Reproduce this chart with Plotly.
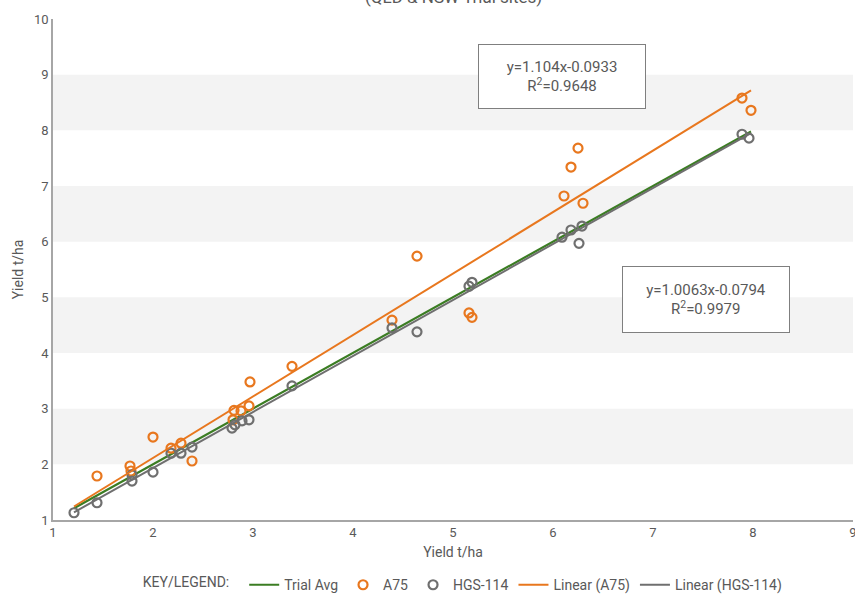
import plotly.graph_objects as go

# ---- data ----
hgs_x = [1.21, 1.44, 1.79, 1.79, 2.00, 2.18, 2.28, 2.39, 2.79, 2.82, 2.89, 2.96, 3.39,
         4.39, 4.64, 5.16, 5.19, 6.09, 6.18, 6.29, 6.26, 7.89, 7.96]
hgs_y = [1.13, 1.31, 1.81, 1.70, 1.86, 2.20, 2.20, 2.31, 2.65, 2.71, 2.78, 2.80, 3.41,
         4.45, 4.38, 5.20, 5.27, 6.08, 6.21, 6.28, 5.97, 7.93, 7.86]
a75_x = [1.44, 1.77, 1.78, 2.00, 2.18, 2.28, 2.39, 2.80, 2.81, 2.88, 2.96, 2.97, 3.39,
         4.39, 4.64, 5.16, 5.19, 6.11, 6.18, 6.25, 6.30, 7.89, 7.98]
a75_y = [1.79, 1.97, 1.88, 2.49, 2.29, 2.38, 2.06, 2.80, 2.97, 2.96, 3.05, 3.48, 3.76,
         4.59, 5.74, 4.72, 4.64, 6.82, 7.34, 7.68, 6.69, 8.58, 8.36]

trend_x = [1.21, 7.98]
a75_slope, a75_int = 1.104, -0.0933
hgs_slope, hgs_int = 1.0063, -0.0794
avg_slope, avg_int = 1.0, 0.0

eq_a75 = "y=1.104x-0.0933<br>R<sup>2</sup>=0.9648"
eq_hgs = "y=1.0063x-0.0794<br>R<sup>2</sup>=0.9979"
title_text = "(QLD & NSW Trial sites)"
x_title = "Yield t/ha"
y_title = "Yield t/ha"
band_ranges = [(2, 3), (4, 5), (6, 7), (8, 9)]

ORANGE = "#E8771E"
GREY = "#6F6F6F"
GREEN = "#3B7D23"
TXT = "#595959"
FONT = "Roboto, sans-serif"

fig = go.Figure()

fig.add_trace(go.Scatter(
    x=trend_x, y=[avg_slope * v + avg_int for v in trend_x], mode="lines",
    name="Trial Avg", line=dict(color=GREEN, width=2.2)))
fig.add_trace(go.Scatter(
    x=a75_x, y=a75_y, mode="markers", name="A75",
    marker=dict(symbol="circle-open", size=9, color=ORANGE, line=dict(width=2.2, color=ORANGE))))
fig.add_trace(go.Scatter(
    x=hgs_x, y=hgs_y, mode="markers", name="HGS-114",
    marker=dict(symbol="circle-open", size=9, color=GREY, line=dict(width=2.2, color=GREY))))
fig.add_trace(go.Scatter(
    x=trend_x, y=[a75_slope * v + a75_int for v in trend_x], mode="lines",
    name="Linear (A75)", line=dict(color=ORANGE, width=2)))
fig.add_trace(go.Scatter(
    x=trend_x, y=[hgs_slope * v + hgs_int for v in trend_x], mode="lines",
    name="Linear (HGS-114)", line=dict(color=GREY, width=2)))

for lo, hi in band_ranges:
    fig.add_shape(type="rect", xref="paper", x0=0, x1=1, yref="y", y0=lo, y1=hi,
                  fillcolor="#F3F3F3", line=dict(width=0), layer="below")

fig.add_annotation(x=6.09, y=8.97, xref="x", yref="y", text=eq_a75, showarrow=False,
                   font=dict(family=FONT, size=15, color=TXT),
                   bordercolor="#7F7F7F", borderwidth=1, bgcolor="white",
                   width=164, height=61, align="center")
fig.add_annotation(x=7.53, y=4.97, xref="x", yref="y", text=eq_hgs, showarrow=False,
                   font=dict(family=FONT, size=15, color=TXT),
                   bordercolor="#7F7F7F", borderwidth=1, bgcolor="white",
                   width=164, height=63, align="center")

fig.add_annotation(x=0.5, y=1, xref="paper", yref="paper", text=title_text, showarrow=False,
                   yanchor="middle", yshift=22,
                   font=dict(family=FONT, size=17, color=TXT))

fig.update_layout(
    width=855, height=594,
    margin=dict(l=53, r=2, t=19, b=74, autoexpand=False),
    paper_bgcolor="white", plot_bgcolor="white",
    font=dict(family=FONT, color=TXT, size=13),
    showlegend=True,
    legend=dict(orientation="h", x=0.543, xanchor="center", xref="container",
                y=-0.13, yanchor="middle", yref="paper",
                title=dict(text="KEY/LEGEND:  ", side="left", font=dict(size=14, color=TXT)),
                font=dict(size=14, color=TXT), itemwidth=30, tracegroupgap=0),
    xaxis=dict(range=[1, 9], dtick=1, showgrid=False, zeroline=False, automargin=False,
               showline=True, linecolor="#A6A6A6", linewidth=1.5, ticks="",
               ticklabeloverflow="allow",
               tickfont=dict(size=13, color=TXT),
               title=dict(text=x_title, font=dict(family=FONT, size=14, color=TXT), standoff=8)),
    yaxis=dict(range=[1, 10], dtick=1, showgrid=False, zeroline=False, automargin=False,
               showline=True, linecolor="#A6A6A6", linewidth=1.5, ticks="",
               ticklabeloverflow="allow",
               tickfont=dict(size=13, color=TXT),
               title=dict(text=y_title, font=dict(family=FONT, size=14, color=TXT), standoff=7)),
)

fig.write_html("out.html", config={"displayModeBar": False},
               post_script="document.body.style.margin='0';document.body.style.overflow='hidden';")
